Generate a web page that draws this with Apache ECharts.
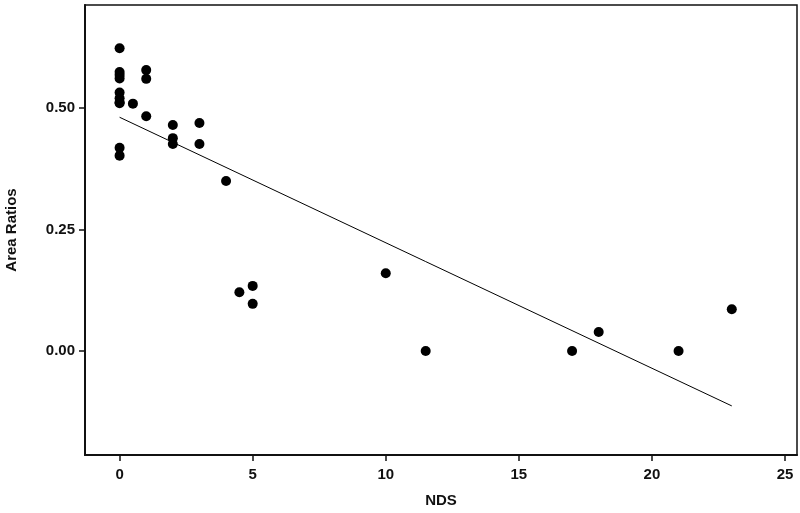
<!DOCTYPE html>
<html><head><meta charset="utf-8">
<script src="https://cdn.jsdelivr.net/npm/echarts@6/dist/echarts.min.js"></script>
<style>html,body{margin:0;padding:0;background:#fff}#c{width:800px;height:513px}</style>
</head><body><div id="c"></div>
<script>
const ndsValues = [0,0,0,0,0,0,0,0,0,0, 0.5, 1,1,1, 2,2,2, 3,3, 4, 4.5, 5,5, 10, 11.5, 17, 18, 21, 23];
const areaRatios = [0.623,0.574,0.568,0.561,0.532,0.52,0.51,0.418,0.402, 0.512, 0.509, 0.578,0.56,0.483, 0.465,0.438,0.426, 0.469,0.426, 0.35, 0.121, 0.134,0.097, 0.16, 0.0, 0.0, 0.039, 0.0, 0.086];
const fitX = [0, 23];
const fitY = [0.481, -0.113];
const xTicks = [0,5,10,15,20,25];
const yTicks = [0,0.25,0.5];

const font = "'Liberation Sans Narrow','Arial Narrow','Liberation Sans',Arial,sans-serif";
const chart = echarts.init(document.getElementById('c'));
chart.setOption({
  animation:false,
  backgroundColor:'#fff',
  grid:{left:85,right:3,top:5,bottom:58,show:true,borderColor:'#111',borderWidth:1.5,backgroundColor:'transparent',containLabel:false,outerBoundsMode:'none'},
  xAxis:{type:'value',min:-1.3,max:25.45,
    name:'NDS',nameLocation:'middle',nameGap:38,
    nameTextStyle:{fontFamily:font,fontWeight:'bold',fontSize:15,color:'#111'},
    axisLine:{show:true,onZero:false,lineStyle:{color:'#111',width:2}},
    axisTick:{show:true,length:6,lineStyle:{color:'#111',width:1.5},customValues:xTicks},
    axisLabel:{color:'#111',fontFamily:font,fontWeight:'bold',fontSize:15,margin:12,customValues:xTicks},
    splitLine:{show:false}},
  yAxis:{type:'value',min:-0.214,max:0.712,
    name:'Area Ratios',nameLocation:'middle',nameGap:66,nameRotate:90,
    nameTextStyle:{fontFamily:font,fontWeight:'bold',fontSize:15,color:'#111'},
    axisLine:{show:true,onZero:false,lineStyle:{color:'#111',width:2}},
    axisTick:{show:true,length:6,lineStyle:{color:'#111',width:1.5},customValues:yTicks},
    axisLabel:{color:'#111',fontFamily:font,fontWeight:'bold',fontSize:15,margin:10,customValues:yTicks,formatter:v=>v.toFixed(2)},
    splitLine:{show:false}},
  series:[
    {type:'scatter',data:ndsValues.map((x,i)=>[x,areaRatios[i]]),symbol:'circle',symbolSize:10,itemStyle:{color:'#000',opacity:1}},
    {type:'line',data:fitX.map((x,i)=>[x,fitY[i]]),symbol:'none',lineStyle:{color:'#000',width:1}}
  ]
});
</script></body></html>
